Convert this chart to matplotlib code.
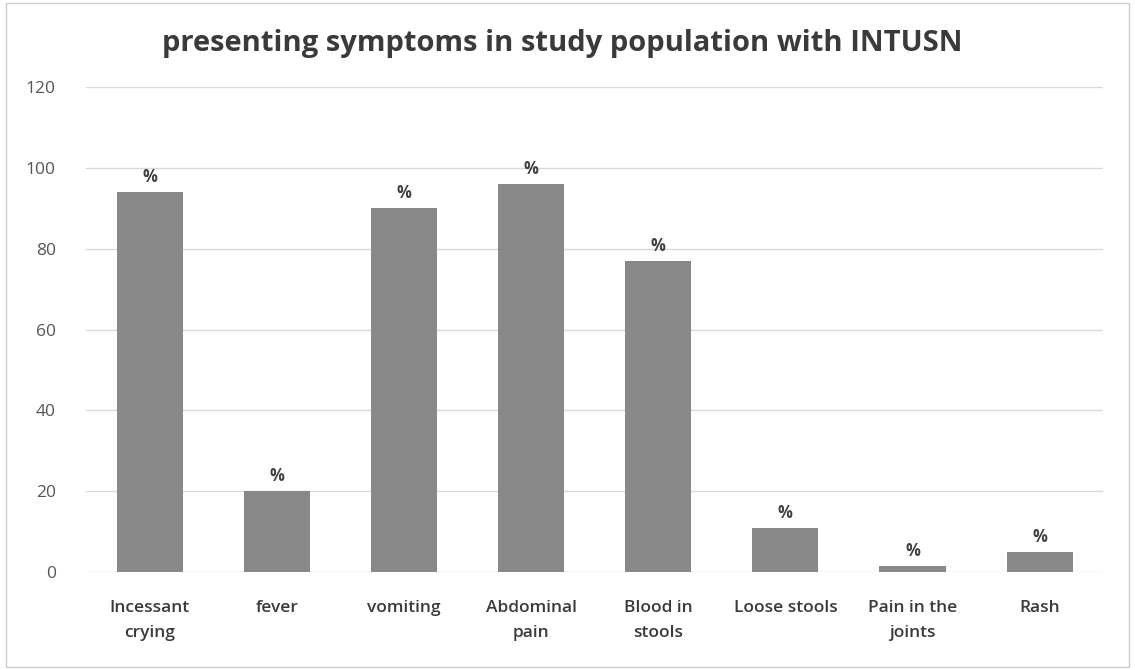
import matplotlib
matplotlib.use("Agg")
import matplotlib.pyplot as plt
from matplotlib.patches import Rectangle

# data
symptoms = ["Incessant\ncrying", "fever", "vomiting", "Abdominal\npain",
            "Blood in\nstools", "Loose stools", "Pain in the\njoints", "Rash"]
percent = [94, 20, 90, 96, 77, 11, 1.5, 5]
bar_labels = ["%"] * len(symptoms)
y_ticks = [0, 20, 40, 60, 80, 100, 120]

plt.rcParams['font.family'] = ['Open Sans', 'DejaVu Sans']

fig = plt.figure(figsize=(11.35, 6.70), dpi=100)
ax = fig.add_axes([0.076, 0.146, 0.896, 0.724])

x = range(len(symptoms))
bars = ax.bar(x, percent, width=0.52, color="#888888", zorder=3)

# percent signs above each bar
for b, lab in zip(bars, bar_labels):
    ax.text(b.get_x() + b.get_width() / 2, b.get_height() + 1.5, lab,
            ha="center", va="bottom", fontsize=12, fontweight="bold", color="#404040")

ax.set_xlim(-0.5, len(symptoms) - 0.5)
ax.set_ylim(0, 120)
ax.set_yticks(y_ticks)
ax.set_xticks(list(x))
ax.set_xticklabels(symptoms, fontsize=12.5, fontweight="semibold", color="#3a3a3a",
                   linespacing=1.75)
ax.tick_params(axis="y", labelsize=12.5, labelcolor="#555555", length=0, pad=22)
ax.tick_params(axis="x", length=0, pad=20)

ax.yaxis.grid(True, color="#d9d9d9", linewidth=1, zorder=0)
for s in ax.spines.values():
    s.set_visible(False)

fig.suptitle("presenting symptoms in study population with INTUSN",
             x=0.495, y=0.957, fontsize=21, fontweight="bold", color="#3a3a3a")

# faint frame round the chart
fig.patches.append(Rectangle((0.005, 0.005), 0.99, 0.99, transform=fig.transFigure,
                             fill=False, edgecolor="#cccccc", linewidth=1))

fig.savefig("out.png", dpi=100)
